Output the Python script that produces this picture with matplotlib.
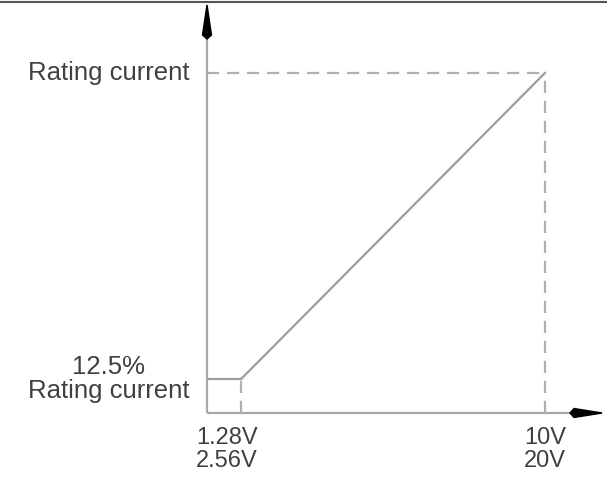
import matplotlib
matplotlib.use("Agg")
import matplotlib.pyplot as plt
from matplotlib.patches import Polygon
from matplotlib.lines import Line2D

plt.rcParams['font.family'] = ['Liberation Sans', 'DejaVu Sans']

# ---- data (schematic) ----
voltage_points = [1.28, 10]            # control voltage (0-10V range)
current_points = [12.5, 100]           # % of rating current
x_labels = ["1.28V\n2.56V", "10V\n20V"]
y_labels = ["12.5%\nRating current", "Rating current"]

W, H = 607, 482
fig = plt.figure(figsize=(W / 100, H / 100), dpi=100)
ax = fig.add_axes([207 / W, 69 / H, 395 / W, 408 / H])
ax.set_xlim(0.30, 11.635)
ax.set_ylim(2.78, 119.4)
ax.axis('off')

x0, _ = ax.get_xlim()
y0, _ = ax.get_ylim()

line_col = '#9c9c9c'
axis_col = '#a8a8a8'
dash_col = '#b0b0b0'
txt_col = '#404040'

# axes lines
ax.plot([0, 0], [0, 1], transform=ax.transAxes, color=axis_col, lw=1.6,
        solid_capstyle='butt', clip_on=False)
ax.plot([0, 1], [0, 0], transform=ax.transAxes, color=axis_col, lw=1.6,
        solid_capstyle='butt', clip_on=False)

# low-current plateau and ramp
ax.plot([x0, voltage_points[0]], [current_points[0], current_points[0]],
        color=line_col, lw=1.6, solid_capstyle='butt')
ax.plot(voltage_points, current_points, color=line_col, lw=1.6)

# dashed guide lines
dash = dict(color=dash_col, lw=1.6, linestyle=(0, (5.5, 3.5)))
ax.plot([voltage_points[0], voltage_points[0]], [y0, current_points[0]], **dash)
ax.plot([x0, voltage_points[1]], [current_points[1], current_points[1]], **dash)
ax.plot([voltage_points[1], voltage_points[1]], [y0, current_points[1]], **dash)

# arrowheads (display/pixel coordinates derived from the axes box)
bb = ax.get_position()
ax_left = bb.x0 * W
ax_bot = bb.y0 * H
ax_top = bb.y1 * H
ax_right = bb.x1 * W
up_head = Polygon([[ax_left, ax_top], [ax_left - 4.5, ax_top - 30],
                   [ax_left, ax_top - 34], [ax_left + 4.5, ax_top - 30]],
                  closed=True, color='black', transform=None, clip_on=False)
right_head = Polygon([[ax_right, ax_bot], [ax_right - 28, ax_bot + 4.5],
                      [ax_right - 32, ax_bot], [ax_right - 28, ax_bot - 4.5]],
                     closed=True, color='black', transform=None, clip_on=False)
fig.patches.extend([up_head, right_head])

# top border line
fig.add_artist(Line2D([0, 1], [1 - 1.5 / H, 1 - 1.5 / H], transform=fig.transFigure,
                      color='#555555', lw=1.5))

# x labels
for xv, lab in zip(voltage_points, x_labels):
    ax.text(xv - (0.4 if xv < 5 else 0), -14 / 408, lab, transform=ax.get_xaxis_transform(),
            ha='center', va='top', fontsize=17, color=txt_col, linespacing=1.05,
            multialignment='center')

# y labels
for yv, lab in zip(current_points, y_labels):
    ax.text(-18 / 395, yv, lab, transform=ax.get_yaxis_transform(),
            ha='right', va='center', fontsize=18.5, color=txt_col, linespacing=1.05,
            multialignment='center')

fig.savefig('out.png', dpi=100)
